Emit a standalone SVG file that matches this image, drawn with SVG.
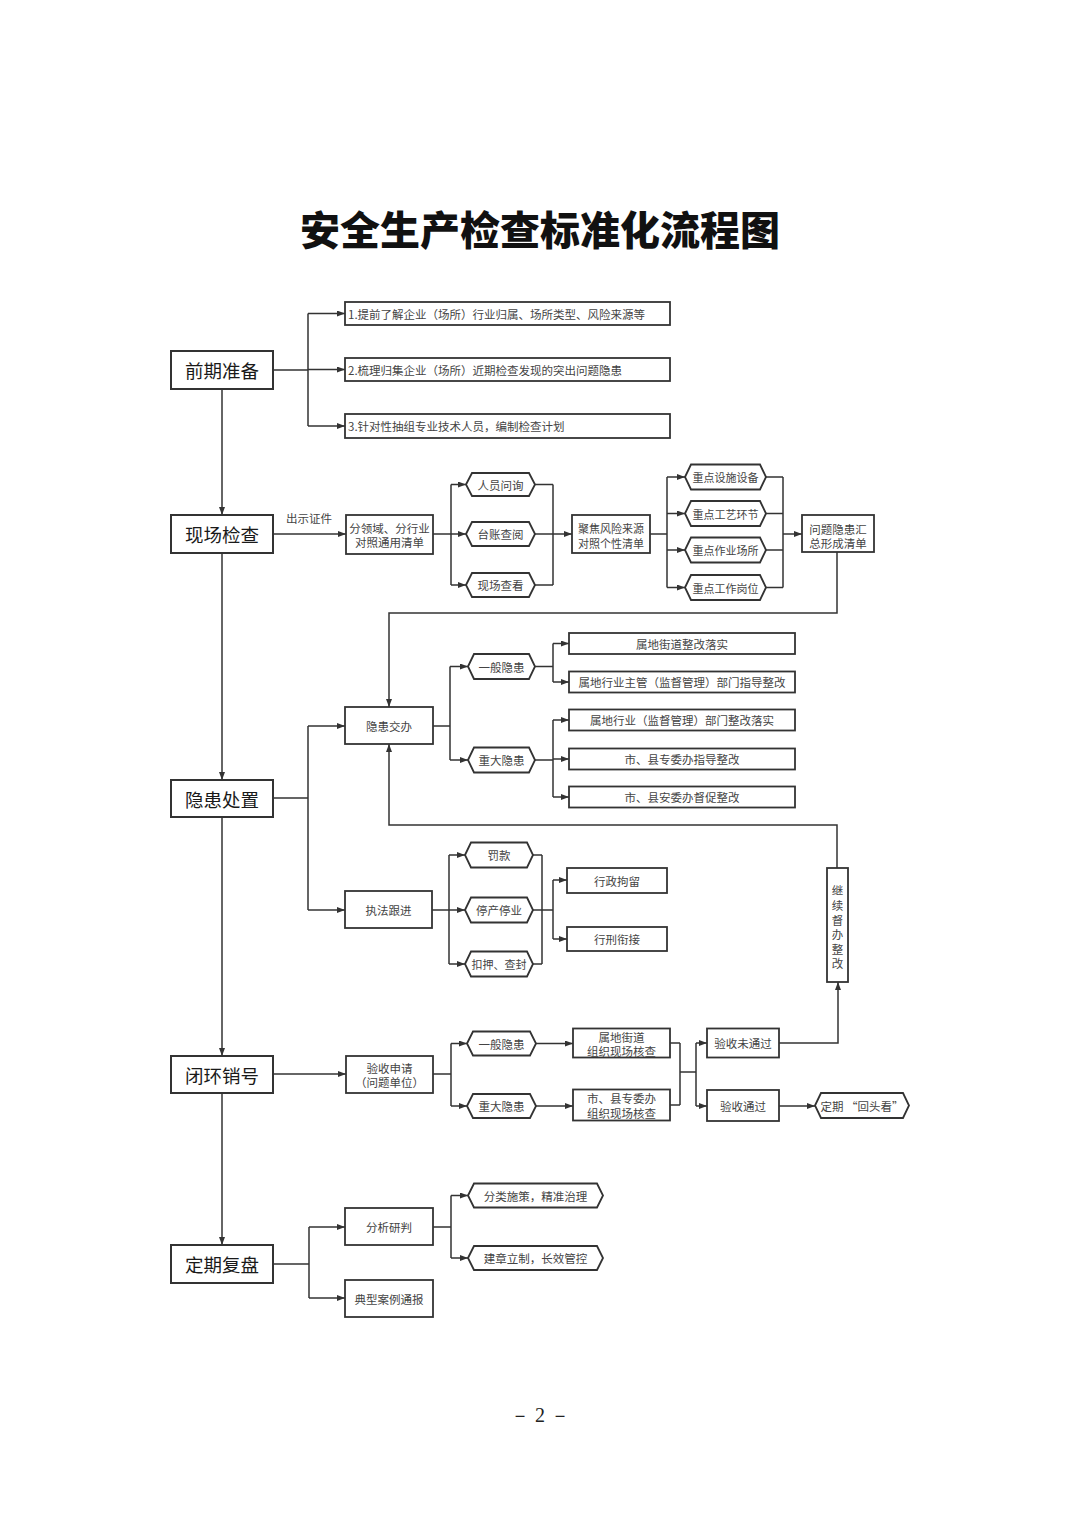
<svg xmlns="http://www.w3.org/2000/svg" width="1080" height="1527" viewBox="0 0 1080 1527">
<defs>
<marker id="ah" viewBox="0 0 8 6" refX="8" refY="3" markerWidth="8" markerHeight="6" markerUnits="userSpaceOnUse" orient="auto"><path d="M0,0 L8,3 L0,6 z" fill="#333"/></marker>
<style>
.box{fill:#fff;stroke:#333;stroke-width:1.8}
.main{fill:#fff;stroke:#333;stroke-width:2}
.ln{fill:none;stroke:#333;stroke-width:1.5}
.ar{fill:none;stroke:#333;stroke-width:1.5;marker-end:url(#ah)}
text{font-family:"Noto Sans CJK SC","Noto Sans",sans-serif;dominant-baseline:central}
.t{font-size:11.5px;fill:#444;text-anchor:middle}
.s{font-size:11px}
.tl{font-size:11.5px;fill:#444}
.m{font-size:18.5px;fill:#1a1a1a;text-anchor:middle}
.title{font-size:40px;font-weight:900;fill:#111;text-anchor:middle}
.pg{font-family:"Liberation Serif",serif;font-size:20px;fill:#222;text-anchor:middle}
</style>
</defs>
<rect width="1080" height="1527" fill="#fff"/>
<text class="title" x="540" y="228">安全生产检查标准化流程图</text>

<g id="connectors">
<path class="ar" d="M222 389 V515"/>
<path class="ar" d="M222 554 V780"/>
<path class="ar" d="M222 817 V1056"/>
<path class="ar" d="M222 1093 V1245"/>
<path class="ln" d="M273 370 H308 M308 313.5 V426"/>
<path class="ar" d="M308 313.5 H345"/>
<path class="ar" d="M308 369.5 H345"/>
<path class="ar" d="M308 426 H345"/>
<path class="ar" d="M273 534 H346"/>
<path class="ln" d="M433 534 H451 M451 484.5 V585"/>
<path class="ar" d="M451 484.5 H466"/>
<path class="ar" d="M451 534 H466"/>
<path class="ar" d="M451 585 H466"/>
<path class="ln" d="M535 484.5 H553 M535 585 H553 M553 484.5 V585"/>
<path class="ar" d="M535 534 H572"/>
<path class="ln" d="M650 534 H667 M667 477 V587.5"/>
<path class="ar" d="M667 477 H685"/>
<path class="ar" d="M667 513.5 H685"/>
<path class="ar" d="M667 550 H685"/>
<path class="ar" d="M667 587.5 H685"/>
<path class="ln" d="M766 477 H783 M766 513.5 H783 M766 550 H783 M766 587.5 H783 M783 477 V587.5"/>
<path class="ar" d="M783 534 H802"/>
<path class="ar" d="M837 552 V613 H389 V707"/>
<path class="ln" d="M273 798 H308 M308 726 V910"/>
<path class="ar" d="M308 726 H345"/>
<path class="ar" d="M308 910 H345"/>
<path class="ln" d="M433 726 H450 M450 666.5 V760"/>
<path class="ar" d="M450 666.5 H468"/>
<path class="ar" d="M450 760 H468"/>
<path class="ln" d="M535 666.5 H553 M553 643.5 V682"/>
<path class="ar" d="M553 643.5 H569"/>
<path class="ar" d="M553 682 H569"/>
<path class="ln" d="M535 760 H553 M553 720 V797"/>
<path class="ar" d="M553 720 H569"/>
<path class="ar" d="M553 759 H569"/>
<path class="ar" d="M553 797 H569"/>
<path class="ar" d="M837 868 V825 H389 V744"/>
<path class="ln" d="M432 910 H449 M449 855 V964"/>
<path class="ar" d="M449 855 H465"/>
<path class="ar" d="M449 910 H465"/>
<path class="ar" d="M449 964 H465"/>
<path class="ln" d="M533 855 H542 M533 964 H542 M542 855 V964 M533 910 H553 M553 880 V939"/>
<path class="ar" d="M553 880 H567"/>
<path class="ar" d="M553 939 H567"/>
<path class="ar" d="M273 1074 H346"/>
<path class="ln" d="M433 1074 H451 M451 1043.5 V1106"/>
<path class="ar" d="M451 1043.5 H467"/>
<path class="ar" d="M451 1106 H467"/>
<path class="ar" d="M536 1043.5 H573"/>
<path class="ar" d="M536 1106 H573"/>
<path class="ln" d="M670 1043 H680 M670 1105 H680 M680 1043 V1105 M680 1072 H696 M696 1043 V1106"/>
<path class="ar" d="M696 1043 H707"/>
<path class="ar" d="M696 1106 H707"/>
<path class="ar" d="M779 1043 H838 V982"/>
<path class="ar" d="M779 1106 H815"/>
<path class="ln" d="M273 1264 H309 M309 1227 V1298"/>
<path class="ar" d="M309 1227 H345"/>
<path class="ar" d="M309 1298 H345"/>
<path class="ln" d="M433 1227 H451 M451 1195.5 V1258"/>
<path class="ar" d="M451 1195.5 H468"/>
<path class="ar" d="M451 1258 H468"/>
</g>

<g id="n-qqzb"><rect class="main" x="171" y="351" width="102" height="38"/><text class="m" x="222" y="370">前期准备</text></g>
<g id="n-xcjc"><rect class="main" x="171" y="515" width="102" height="38"/><text class="m" x="222" y="534">现场检查</text></g>
<g id="n-yhcz"><rect class="main" x="171" y="780" width="102" height="37"/><text class="m" x="222" y="798.5">隐患处置</text></g>
<g id="n-bhxh"><rect class="main" x="171" y="1056" width="102" height="37"/><text class="m" x="222" y="1074.5">闭环销号</text></g>
<g id="n-dqfp"><rect class="main" x="171" y="1245" width="102" height="38"/><text class="m" x="222" y="1264">定期复盘</text></g>

<g id="n-q1"><rect class="box" x="345" y="302" width="325" height="23"/><text class="tl" x="348" y="313.5">1.提前了解企业（场所）行业归属、场所类型、风险来源等</text></g>
<g id="n-q2"><rect class="box" x="345" y="358" width="325" height="23"/><text class="tl" x="348" y="369.5">2.梳理归集企业（场所）近期检查发现的突出问题隐患</text></g>
<g id="n-q3"><rect class="box" x="345" y="414" width="325" height="24"/><text class="tl" x="348" y="426">3.针对性抽组专业技术人员，编制检查计划</text></g>

<g id="l-cszj"><text class="t" x="309" y="518">出示证件</text></g>
<g id="n-fly"><rect class="box" x="346" y="515" width="87" height="39"/><text class="t" x="389.5" y="528">分领域、分行业</text><text class="t" x="389.5" y="542">对照通用清单</text></g>
<g id="n-rywx"><polygon class="box" points="466,484.5 472,473 529,473 535,484.5 529,496 472,496"/><text class="t" x="500.5" y="484.5">人员问询</text></g>
<g id="n-tzcy"><polygon class="box" points="466,534 472,522 529,522 535,534 529,546 472,546"/><text class="t" x="500.5" y="534">台账查阅</text></g>
<g id="n-xcck"><polygon class="box" points="466,585 472,573 529,573 535,585 529,597 472,597"/><text class="t" x="500.5" y="585">现场查看</text></g>
<g id="n-jjfx"><rect class="box" x="572" y="515" width="78" height="38"/><text class="t s" x="611" y="528">聚焦风险来源</text><text class="t s" x="611" y="542.5">对照个性清单</text></g>
<g id="n-zd1"><polygon class="box" points="685,477 691,464.5 760,464.5 766,477 760,489.5 691,489.5"/><text class="t s" x="725.5" y="477">重点设施设备</text></g>
<g id="n-zd2"><polygon class="box" points="685,513.5 691,501 760,501 766,513.5 760,526 691,526"/><text class="t s" x="725.5" y="513.5">重点工艺环节</text></g>
<g id="n-zd3"><polygon class="box" points="685,550 691,537.5 760,537.5 766,550 760,562.5 691,562.5"/><text class="t s" x="725.5" y="550">重点作业场所</text></g>
<g id="n-zd4"><polygon class="box" points="685,587.5 691,575 760,575 766,587.5 760,600 691,600"/><text class="t s" x="725.5" y="587.5">重点工作岗位</text></g>
<g id="n-wthz"><rect class="box" x="802" y="515" width="72" height="37"/><text class="t" x="838" y="528.5">问题隐患汇</text><text class="t" x="838" y="542.5">总形成清单</text></g>

<g id="n-yhjb"><rect class="box" x="345" y="707" width="88" height="37"/><text class="t" x="389" y="725.5">隐患交办</text></g>
<g id="n-ybyh"><polygon class="box" points="468,666.5 474,654 529,654 535,666.5 529,679 474,679"/><text class="t" x="501.5" y="666.5">一般隐患</text></g>
<g id="n-zdyh"><polygon class="box" points="468,760 474,747.5 529,747.5 535,760 529,772.5 474,772.5"/><text class="t" x="501.5" y="760">重大隐患</text></g>
<g id="n-r1"><rect class="box" x="569" y="633" width="226" height="21"/><text class="t" x="682" y="643.5">属地街道整改落实</text></g>
<g id="n-r2"><rect class="box" x="569" y="671.5" width="226" height="21"/><text class="t" x="682" y="682">属地行业主管（监督管理）部门指导整改</text></g>
<g id="n-r3"><rect class="box" x="569" y="709.5" width="226" height="21"/><text class="t" x="682" y="720">属地行业（监督管理）部门整改落实</text></g>
<g id="n-r4"><rect class="box" x="569" y="748.5" width="226" height="21"/><text class="t" x="682" y="759">市、县专委办指导整改</text></g>
<g id="n-r5"><rect class="box" x="569" y="786.5" width="226" height="21"/><text class="t" x="682" y="797">市、县安委办督促整改</text></g>
<g id="n-zfgj"><rect class="box" x="345" y="891" width="87" height="37"/><text class="t" x="388.5" y="909.5">执法跟进</text></g>
<g id="n-fk"><polygon class="box" points="465,855 471,842.5 527,842.5 533,855 527,867.5 471,867.5"/><text class="t" x="499" y="855">罚款</text></g>
<g id="n-tcty"><polygon class="box" points="465,910 471,897.5 527,897.5 533,910 527,922.5 471,922.5"/><text class="t" x="499" y="910">停产停业</text></g>
<g id="n-kycf"><polygon class="box" points="465,964 471,951.5 527,951.5 533,964 527,976.5 471,976.5"/><text class="t s" x="499" y="964">扣押、查封</text></g>
<g id="n-xzjl"><rect class="box" x="567" y="868" width="100" height="25"/><text class="t" x="617" y="880.5">行政拘留</text></g>
<g id="n-xxxj"><rect class="box" x="567" y="927" width="100" height="24"/><text class="t" x="617" y="939">行刑衔接</text></g>
<g id="n-jxdb"><rect class="box" x="827" y="868" width="21" height="114"/>
<text class="t" x="837.5" y="890">继</text><text class="t" x="837.5" y="905">续</text><text class="t" x="837.5" y="919.5">督</text><text class="t" x="837.5" y="934">办</text><text class="t" x="837.5" y="948.5">整</text><text class="t" x="837.5" y="963">改</text></g>

<g id="n-yssq"><rect class="box" x="346" y="1056" width="87" height="37"/><text class="t" x="389.5" y="1068">验收申请</text><text class="t" x="389.5" y="1082">（问题单位）</text></g>
<g id="n-ybyh2"><polygon class="box" points="467,1043.5 473,1031.5 530,1031.5 536,1043.5 530,1055.5 473,1055.5"/><text class="t" x="501.5" y="1043.5">一般隐患</text></g>
<g id="n-zdyh2"><polygon class="box" points="467,1106 473,1094 530,1094 536,1106 530,1118 473,1118"/><text class="t" x="501.5" y="1106">重大隐患</text></g>
<g id="n-sdjd"><rect class="box" x="573" y="1028.5" width="97" height="29"/><text class="t" x="621.5" y="1036.5">属地街道</text><text class="t" x="621.5" y="1050.5">组织现场核查</text></g>
<g id="n-sxzwb"><rect class="box" x="573" y="1089.5" width="97" height="31"/><text class="t" x="621.5" y="1098">市、县专委办</text><text class="t" x="621.5" y="1113">组织现场核查</text></g>
<g id="n-yswtg"><rect class="box" x="707" y="1028.5" width="72" height="29"/><text class="t" x="743" y="1043">验收未通过</text></g>
<g id="n-ystg"><rect class="box" x="707" y="1090" width="72" height="31"/><text class="t" x="743" y="1105.5">验收通过</text></g>
<g id="n-htk"><polygon class="box" points="815,1105.5 821,1093 903,1093 909,1105.5 903,1118 821,1118"/><text class="t" x="862" y="1105.5">定期 “回头看”</text></g>

<g id="n-fxyp"><rect class="box" x="345" y="1208" width="88" height="37"/><text class="t" x="389" y="1226.5">分析研判</text></g>
<g id="n-dxal"><rect class="box" x="345" y="1280" width="88" height="37"/><text class="t" x="389" y="1298.5">典型案例通报</text></g>
<g id="n-flsc"><polygon class="box" points="468,1195.5 474,1183.5 597,1183.5 603,1195.5 597,1207.5 474,1207.5"/><text class="t" x="535.5" y="1195.5">分类施策，精准治理</text></g>
<g id="n-jzlz"><polygon class="box" points="468,1258 474,1246 597,1246 603,1258 597,1270 474,1270"/><text class="t" x="535.5" y="1258">建章立制，长效管控</text></g>

<text class="pg" x="540" y="1415">－ 2 －</text>
</svg>
